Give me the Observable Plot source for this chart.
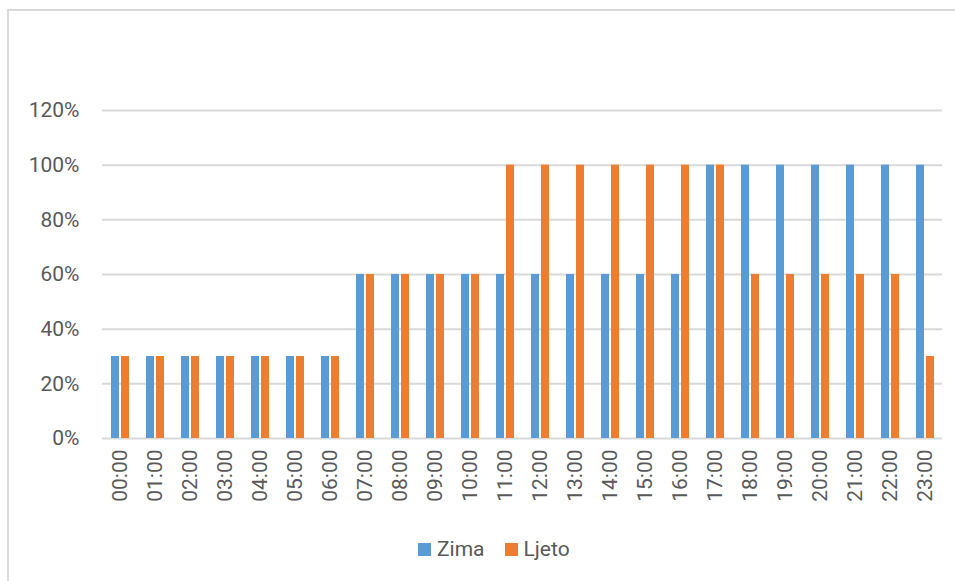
<!DOCTYPE html>
<html>
<head>
<meta charset="utf-8">
<script src="https://cdn.jsdelivr.net/npm/d3@7"></script>
<script src="https://cdn.jsdelivr.net/npm/@observablehq/plot@0.6"></script>
<style>
  html, body { margin: 0; padding: 0; background: #fff; overflow: hidden; }
  #wrap { position: relative; width: 955px; height: 581px; overflow: hidden; font-family: "Roboto", sans-serif; }
  #frame { position: absolute; left: 7px; top: 9px; width: 1000px; height: 1000px; border: 2px solid #d9d9d9; box-sizing: border-box; }
  #chart { position: absolute; left: 0; top: 0; }
  #legend { position: absolute; left: 418px; top: 537px; display: flex; align-items: center; font-size: 21px; color: #595959; }
  .sw { display: inline-block; width: 13px; height: 13px; margin-right: 6px; }
  .item { display: flex; align-items: center; margin-right: 20px; }
</style>
</head>
<body>
<div id="wrap">
  <div id="frame"></div>
  <div id="chart"></div>
  <div id="legend"></div>
</div>
<script>
const hours = ["00:00","01:00","02:00","03:00","04:00","05:00","06:00","07:00","08:00","09:00","10:00","11:00","12:00","13:00","14:00","15:00","16:00","17:00","18:00","19:00","20:00","21:00","22:00","23:00"];
const series = ["Zima", "Ljeto"];
const zima  = [0.3,0.3,0.3,0.3,0.3,0.3,0.3,0.6,0.6,0.6,0.6,0.6,0.6,0.6,0.6,0.6,0.6,1.0,1.0,1.0,1.0,1.0,1.0,1.0];
const ljeto = [0.3,0.3,0.3,0.3,0.3,0.3,0.3,0.6,0.6,0.6,0.6,1.0,1.0,1.0,1.0,1.0,1.0,1.0,0.6,0.6,0.6,0.6,0.6,0.3];
const yTicks = [0, 0.2, 0.4, 0.6, 0.8, 1.0, 1.2];
const colors = ["#5B9BD5", "#ED7D31"];

const data = [];
hours.forEach((h, i) => {
  data.push({hour: h, series: "Zima", value: zima[i]});
  data.push({hour: h, series: "Ljeto", value: ljeto[i]});
});

const chart = Plot.plot({
  width: 955,
  height: 525,
  marginLeft: 102,
  marginRight: 13,
  marginTop: 110,
  marginBottom: 87,
  style: { fontFamily: '"Roboto", sans-serif', fontSize: "21px", color: "#595959", background: "transparent" },
  fx: { domain: hours, padding: 0, label: null, axis: "bottom", tickRotate: -90, tickSize: 0, tickPadding: 11 },
  x: { domain: series, paddingInner: 0.25, paddingOuter: 0.875, axis: null },
  y: { domain: [0, 1.2], ticks: yTicks, tickFormat: d => Math.round(d * 100) + "%", tickSize: 0, tickPadding: 23, label: null },
  color: { domain: series, range: colors },
  marks: [
    Plot.ruleY(yTicks, { stroke: "#d9d9d9", strokeWidth: 2 }),
    Plot.barY(data, { fx: "hour", x: "series", y: "value", fill: "series" })
  ]
});
document.getElementById("chart").appendChild(chart);

const legend = document.getElementById("legend");
series.forEach((s, i) => {
  const item = document.createElement("div");
  item.className = "item";
  const sw = document.createElement("span");
  sw.className = "sw";
  sw.style.background = colors[i];
  item.appendChild(sw);
  item.appendChild(document.createTextNode(s));
  legend.appendChild(item);
});
</script>
</body>
</html>
